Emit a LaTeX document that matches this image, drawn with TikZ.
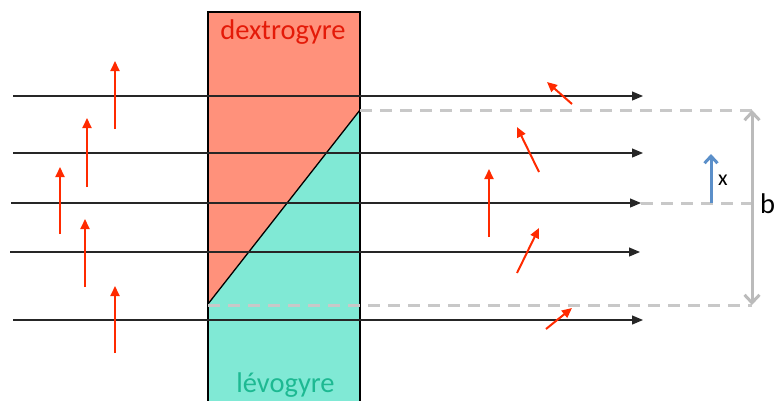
\documentclass[tikz,border=0pt]{standalone}
\usepackage{fontspec}
\setmainfont{Carlito}
\usetikzlibrary{arrows.meta}
\definecolor{dextro}{HTML}{FF917B}
\definecolor{levo}{HTML}{80E9D5}
\definecolor{dextrotext}{HTML}{E41A08}
\definecolor{levotext}{HTML}{1DB992}
\definecolor{vecred}{HTML}{FF2A00}
\definecolor{guide}{HTML}{C8C8C8}
\definecolor{bgray}{HTML}{BBBBBB}
\definecolor{xblue}{HTML}{5B8FC9}
\tikzset{
    ray/.style={line width=1.2pt,draw=black!85,-{Triangle[length=11pt,width=9pt]}},
    vec/.style={line width=2pt,draw=vecred,-{Triangle[length=10pt,width=9pt,fill=vecred]}},
    guideline/.style={line width=3pt,draw=guide,dash pattern=on 12pt off 8pt},
    plate/.style={draw=black,line width=1.3pt},
    every node/.style={font=\fontsize{28.5}{32}\selectfont}
}
\begin{document}
\begin{tikzpicture}[x=1pt,y=-1pt]
  \useasboundingbox (0,0) rectangle (774,400);
  \coordinate (TL) at (208,12);
  \coordinate (TR) at (360,12);
  \coordinate (BL) at (208,404);
  \coordinate (BR) at (360,404);
  \coordinate (D1) at (208,304);
  \coordinate (D2) at (360,110);
  \coordinate (G1) at (752,110);
  \coordinate (G2) at (752,305);
  \coordinate (G3) at (752,203);

  % the two halves of the plate
  \fill[dextro] (TL) -- (TR) -- (D2) -- (D1) -- cycle;
  \fill[levo] (D1) -- (D2) -- (BR) -- (BL) -- cycle;
  \draw[plate] (D1) -- (D2);
  \draw[plate] (BL) -- (TL) -- (TR) -- (BR);
  \node[text=dextrotext,anchor=base] (dex) at (283,39) {dextrogyre};
  \node[text=levotext,anchor=base] (lev) at (285.5,392) {lévogyre};

  % light rays
  \foreach \i/\y/\xa/\xb in {1/96/13/643, 2/153/13/643, 3/203/11/641, 4/252/10/640, 5/320/13/643}{
    \coordinate (ray\i a) at (\xa,\y);
    \coordinate (ray\i b) at (\xb,\y);
    \draw[ray] (ray\i a) -- (ray\i b);
  }

  % guide lines
  \draw[guideline] (D2) -- (G1);
  \draw[guideline] (208,305) -- (G2);
  \draw[guideline] (ray3b) -- (G3);

  % incoming polarization
  \foreach \i/\x/\ya/\yb in {1/115/129/61, 2/87/187/118, 3/60/234/167, 4/85/287/219, 5/115/353/286}{
    \coordinate (in\i a) at (\x,\ya);
    \coordinate (in\i b) at (\x,\yb);
    \draw[vec] (in\i a) -- (in\i b);
  }

  % outgoing polarization
  \foreach \i/\xa/\ya/\xb/\yb in {1/572/104/547/82, 2/539/172/517/127, 3/489/237/489/169, 4/517/273/539/228, 5/546/329/572/308}{
    \coordinate (out\i a) at (\xa,\ya);
    \coordinate (out\i b) at (\xb,\yb);
    \draw[vec] (out\i a) -- (out\i b);
  }

  % thickness b and position x
  \draw[bgray,line width=3pt,{Straight Barb[length=8pt,width=15pt]}-{Straight Barb[length=8pt,width=15pt]}] (G1) -- (G2);
  \coordinate (X0) at (711,203);
  \coordinate (X1) at (711,154);
  \draw[xblue,line width=3pt,-{Straight Barb[length=7pt,width=13pt]}] (X0) -- (X1);
  \node[font=\fontsize{22}{24}\selectfont] (xl) at (723,180) {x};
  \node[anchor=west,inner sep=2pt] (bl) at (758,204) {b};
\end{tikzpicture}
\end{document}
